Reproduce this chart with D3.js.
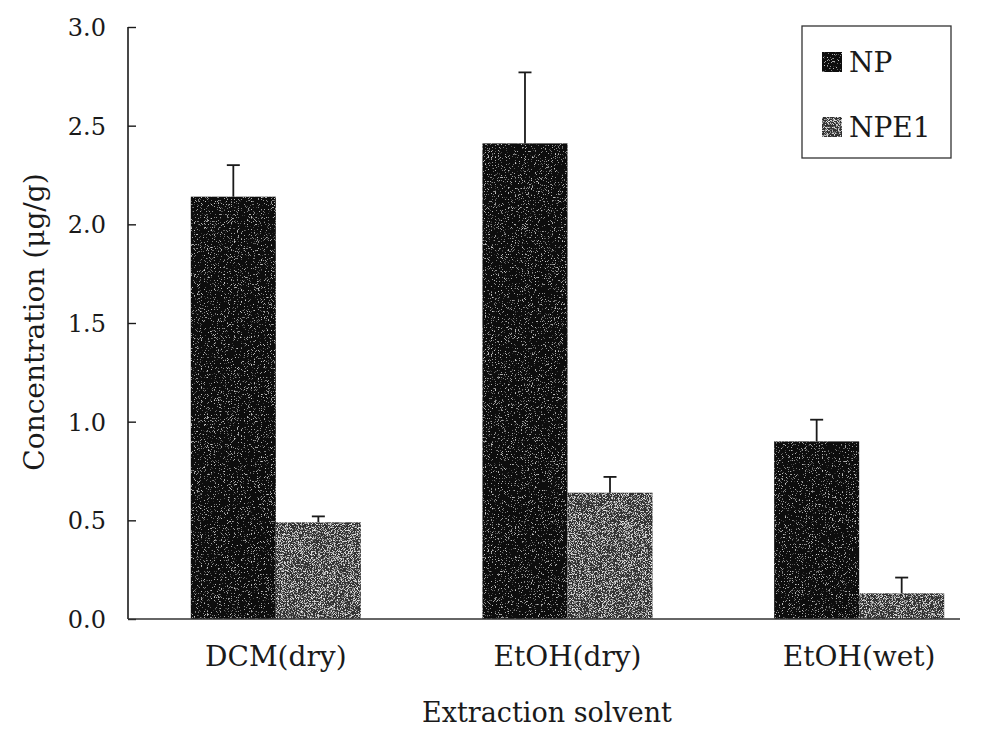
<!DOCTYPE html>
<html><head><meta charset="utf-8">
<script src="https://cdn.jsdelivr.net/npm/d3@7"></script>
<style>body{margin:0;background:#fff}svg{display:block}text{font-family:"DejaVu Serif",serif;fill:#1a1a1a}</style>
</head><body><svg id="c" width="997" height="740"></svg>
<script>
const categories = ["DCM(dry)", "EtOH(dry)", "EtOH(wet)"];
const series = ["NP", "NPE1"];
const npValues = [2.14, 2.41, 0.90];
const npErrors = [0.16, 0.36, 0.11];
const npe1Values = [0.49, 0.64, 0.13];
const npe1Errors = [0.03, 0.08, 0.08];
const yTicks = [0, 0.5, 1.0, 1.5, 2.0, 2.5, 3.0];

const svg = d3.select("#c");
const defs = svg.append("defs");
function noiseFilter(id, seed, grey, k, thr) {
  const f = defs.append("filter").attr("id", id).attr("x", 0).attr("y", 0).attr("width", 1).attr("height", 1);
  f.append("feTurbulence").attr("type", "fractalNoise").attr("baseFrequency", 1.3).attr("numOctaves", 1).attr("seed", seed).attr("result", "n");
  f.append("feColorMatrix").attr("in", "n").attr("type", "matrix")
    .attr("values", `0 0 0 0 ${grey}  0 0 0 0 ${grey}  0 0 0 0 ${grey}  0 0 0 ${k} ${thr}`).attr("result", "w");
  f.append("feComposite").attr("in", "w").attr("in2", "SourceGraphic").attr("operator", "in").attr("result", "wm");
  f.append("feMerge").call(m => { m.append("feMergeNode").attr("in", "SourceGraphic"); m.append("feMergeNode").attr("in", "wm"); });
}
noiseFilter("n1", 3, 0.6, 7, -4.3);
noiseFilter("n2", 7, 0.75, 6, -3.0);
const colors = {NP: "#0c0c0c", NPE1: "#333333"};
const filters = {NP: "url(#n1)", NPE1: "url(#n2)"};

const y = d3.scaleLinear().domain([0, 3]).range([619, 27]);
const x0 = d3.scaleBand().domain(categories).range([130, 1005]).paddingInner(0.417).paddingOuter(0.2085);
const x1 = d3.scaleBand().domain(series).range([0, x0.bandwidth()]);

const data = categories.map((c, i) => ({
  cat: c,
  vals: [{s: "NP", v: npValues[i], e: npErrors[i]}, {s: "NPE1", v: npe1Values[i], e: npe1Errors[i]}]
}));

const g = svg.append("g");
const groups = g.selectAll("g.grp").data(data).join("g").attr("transform", d => `translate(${x0(d.cat)},0)`);
groups.selectAll("rect").data(d => d.vals).join("rect")
  .attr("x", d => x1(d.s)).attr("width", x1.bandwidth())
  .attr("y", d => y(d.v)).attr("height", d => y(0) - y(d.v))
  .attr("fill", d => colors[d.s]).attr("filter", d => filters[d.s]);
groups.selectAll("line.eb").data(d => d.vals).join("line").attr("class", "eb")
  .attr("x1", d => x1(d.s) + x1.bandwidth() / 2).attr("x2", d => x1(d.s) + x1.bandwidth() / 2)
  .attr("y1", d => y(d.v)).attr("y2", d => y(d.v + d.e)).attr("stroke", "#1a1a1a").attr("stroke-width", 1.8);
groups.selectAll("line.cap").data(d => d.vals).join("line").attr("class", "cap")
  .attr("x1", d => x1(d.s) + x1.bandwidth() / 2 - 6.5).attr("x2", d => x1(d.s) + x1.bandwidth() / 2 + 6.5)
  .attr("y1", d => y(d.v + d.e)).attr("y2", d => y(d.v + d.e)).attr("stroke", "#1a1a1a").attr("stroke-width", 1.8);

const yAxis = d3.axisRight(y).tickValues(yTicks).tickSize(8).tickFormat(d3.format(".1f"));
const ya = svg.append("g").attr("transform", "translate(128,0)").call(yAxis);
ya.select(".domain").attr("d", `M0,${y(3)}V${y(0)}`).attr("stroke", "#1a1a1a").attr("stroke-width", 1.6);
ya.selectAll(".tick line").attr("stroke", "#1a1a1a").attr("stroke-width", 1.4);
ya.selectAll(".tick text").attr("x", -22).attr("text-anchor", "end").attr("dy", "0.36em")
  .style("font-size", "24px").style("font-family", "DejaVu Serif").attr("fill", "#1a1a1a");

const xAxis = d3.axisBottom(x0).tickSize(0).tickPadding(22);
const xa = svg.append("g").attr("transform", `translate(0,${y(0)})`).call(xAxis);
xa.select(".domain").attr("d", `M128,0H960`).attr("stroke", "#333").attr("stroke-width", 1.6);
xa.selectAll(".tick text").style("font-size", "28px").style("font-family", "DejaVu Serif").attr("fill", "#1a1a1a").attr("dy", "0.9em");

svg.append("text").attr("x", 547).attr("y", 722).attr("text-anchor", "middle").style("font-size", "27px").text("Extraction solvent");
svg.append("text").attr("transform", "translate(44,322) rotate(-90)").attr("text-anchor", "middle").style("font-size", "28px").text("Concentration (μg/g)");

const lg = svg.append("g");
lg.append("rect").attr("x", 802).attr("y", 26).attr("width", 149).attr("height", 132).attr("fill", "#fff").attr("stroke", "#333").attr("stroke-width", 1.3);
series.forEach((s, i) => {
  lg.append("rect").attr("x", 822).attr("y", 52 + i * 65).attr("width", 20).attr("height", 20).attr("fill", colors[s]).attr("filter", filters[s]);
  lg.append("text").attr("x", 849).attr("y", 72 + i * 65).style("font-size", "28px").text(s);
});
</script></body></html>
